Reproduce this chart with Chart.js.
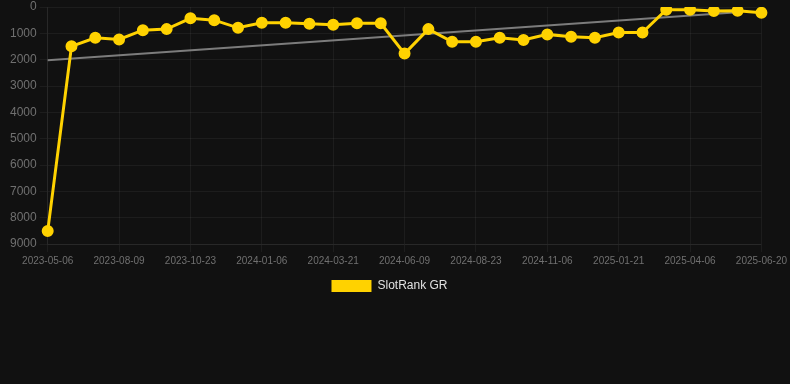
<!DOCTYPE html>
<html>
<head>
<meta charset="utf-8">
<script src="https://cdn.jsdelivr.net/npm/chart.js@4.4.0/dist/chart.umd.min.js"></script>
<style>
  html, body { margin: 0; padding: 0; background: #111111; }
  #wrap { width: 790px; height: 302px; position: relative; }
</style>
</head>
<body>
<div id="wrap"><canvas id="c"></canvas></div>
<script>
const dates = [
  "2023-05-06","2023-06-07","2023-07-09","2023-08-09","2023-09-03","2023-09-28",
  "2023-10-23","2023-11-17","2023-12-12","2024-01-06","2024-01-31","2024-02-25",
  "2024-03-21","2024-04-17","2024-05-13","2024-06-09","2024-07-04","2024-07-29",
  "2024-08-23","2024-09-17","2024-10-12","2024-11-06","2024-12-01","2024-12-27",
  "2025-01-21","2025-02-15","2025-03-12","2025-04-06","2025-05-01","2025-05-26",
  "2025-06-20"
];
const rankGR = [
  8510, 1490, 1170, 1230, 880, 840, 430, 500, 790, 600, 600, 640,
  675, 620, 620, 1770, 840, 1320, 1320, 1170, 1250, 1040, 1130, 1170,
  970, 970, 100, 100, 150, 140, 220
];
const trendStart = { index: 0, value: 2020 };
const trendEnd = { index: 29, value: 200 };
const yTicks = [0, 1000, 2000, 3000, 4000, 5000, 6000, 7000, 8000, 9000];

const gold = '#FFD200';
const font = 'Liberation Sans, Arial, sans-serif';

const legendShift = {
  id: 'legendShift',
  afterLayout(chart) {
    if (chart.legend) { chart.legend.left -= 9; chart.legend.right -= 9; }
  }
};

new Chart(document.getElementById('c'), {
  type: 'line',
  plugins: [legendShift],
  data: {
    labels: dates,
    datasets: [
      {
        label: 'SlotRank GR',
        data: rankGR,
        borderColor: gold,
        backgroundColor: gold,
        borderWidth: 3,
        pointRadius: 5,
        pointBorderWidth: 2,
        pointBackgroundColor: gold,
        pointBorderColor: gold,
        tension: 0,
        order: 1
      },
      {
        label: 'trend',
        data: [
          { x: dates[trendStart.index], y: trendStart.value },
          { x: dates[trendEnd.index], y: trendEnd.value }
        ],
        borderColor: 'rgba(160,160,160,0.75)',
        borderWidth: 2,
        pointRadius: 0,
        fill: false,
        order: 2
      }
    ]
  },
  options: {
    responsive: true,
    maintainAspectRatio: false,
    animation: false,
    layout: { padding: { left: 7, right: 0, top: 0, bottom: 0 } },
    plugins: {
      legend: {
        position: 'bottom',
        labels: {
          color: '#e0e0e0',
          font: { family: font, size: 12 },
          boxWidth: 40,
          boxHeight: 12,
          padding: 10,
          generateLabels: (chart) => {
            const items = Chart.defaults.plugins.legend.labels.generateLabels(chart)
              .filter(it => it.text !== 'trend');
            items.forEach(it => { it.lineWidth = 0; it.strokeStyle = 'rgba(0,0,0,0)'; });
            return items;
          }
        }
      },
      tooltip: { enabled: false }
    },
    scales: {
      x: {
        type: 'category',
        grid: { color: 'rgba(255,255,255,0.05)', drawTicks: true },
        border: { color: 'rgba(255,255,255,0.05)' },
        ticks: {
          color: '#707070',
          autoSkip: false,
          maxRotation: 0,
          font: { family: font, size: 10 },
          callback: function(v, i) { return i % 3 === 0 ? dates[i] : null; }
        }
      },
      y: {
        reverse: true,
        min: yTicks[0],
        max: yTicks[yTicks.length - 1],
        afterBuildTicks: (axis) => { axis.ticks = yTicks.map(v => ({ value: v })); },
        grid: { color: 'rgba(255,255,255,0.05)' },
        border: { color: 'rgba(255,255,255,0.05)' },
        ticks: {
          color: '#707070',
          font: { family: font, size: 12, lineHeight: 0.6 },
          callback: (v) => String(v)
        }
      }
    }
  }
});
</script>
</body>
</html>
